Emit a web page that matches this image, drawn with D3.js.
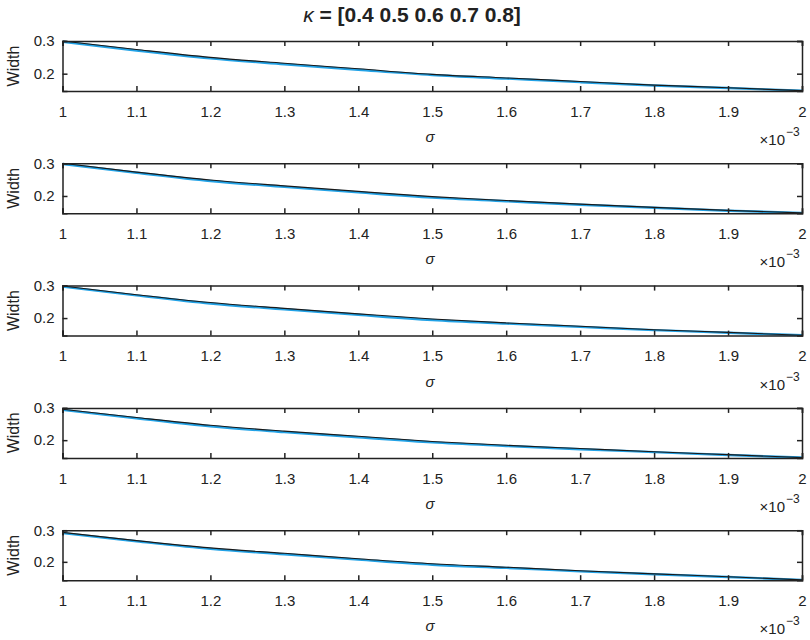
<!DOCTYPE html>
<html>
<head>
<meta charset="utf-8">
<script src="https://cdn.jsdelivr.net/npm/d3@7"></script>
<style>
  html, body { margin: 0; padding: 0; background: #fff; }
  svg text { font-family: "Liberation Sans", Arial, Helvetica, sans-serif; fill: #222; }
</style>
</head>
<body>
<svg id="chart" width="810" height="640"></svg>
<script>
// sigma values (x 10^-3) at which widths are sampled
const sigma = [1.0, 1.1, 1.2, 1.3, 1.4, 1.5, 1.6, 1.7, 1.8, 1.9, 2.0];
const sigmaTicks = [1, 1.1, 1.2, 1.3, 1.4, 1.5, 1.6, 1.7, 1.8, 1.9, 2];
const widthTicks = [0.2, 0.3];
const kappa = [0.4, 0.5, 0.6, 0.7, 0.8];

// width curves, one black and one blue per kappa
const blackK04 = [0.300, 0.274, 0.250, 0.232, 0.215, 0.198, 0.187, 0.176, 0.165, 0.157, 0.148];
const blueK04  = [0.298, 0.271, 0.247, 0.229, 0.212, 0.196, 0.185, 0.174, 0.164, 0.156, 0.148];
const blackK05 = [0.300, 0.273, 0.249, 0.231, 0.214, 0.198, 0.186, 0.175, 0.165, 0.156, 0.148];
const blueK05  = [0.298, 0.271, 0.246, 0.228, 0.211, 0.195, 0.184, 0.173, 0.164, 0.155, 0.148];
const blackK06 = [0.299, 0.272, 0.248, 0.230, 0.213, 0.197, 0.185, 0.175, 0.164, 0.156, 0.147];
const blueK06  = [0.297, 0.270, 0.245, 0.227, 0.210, 0.194, 0.183, 0.173, 0.163, 0.155, 0.147];
const blackK07 = [0.296, 0.270, 0.246, 0.228, 0.212, 0.196, 0.184, 0.174, 0.164, 0.155, 0.146];
const blueK07  = [0.294, 0.268, 0.243, 0.225, 0.209, 0.193, 0.182, 0.172, 0.163, 0.154, 0.146];
const blackK08 = [0.293, 0.267, 0.244, 0.227, 0.210, 0.194, 0.183, 0.172, 0.162, 0.153, 0.143];
const blueK08  = [0.291, 0.265, 0.241, 0.224, 0.207, 0.191, 0.181, 0.170, 0.161, 0.152, 0.143];
const widthMin = [0.147, 0.147, 0.146, 0.145, 0.142];

const panels = [
  { black: blackK04, blue: blueK04 },
  { black: blackK05, blue: blueK05 },
  { black: blackK06, blue: blueK06 },
  { black: blackK07, blue: blueK07 },
  { black: blackK08, blue: blueK08 }
];

const svg = d3.select("#chart");
const left = 62.5, right = 802;
const firstTop = 41, step = 122.3, panelH = 50;

const x = d3.scaleLinear().domain([1, 2]).range([left, right]);

// title
const title = svg.append("text")
  .attr("x", 412).attr("y", 22)
  .attr("text-anchor", "middle")
  .style("font-size", "21px").style("font-weight", "bold");
title.append("tspan").style("font-style", "italic").style("font-weight", "normal").text("κ");
title.append("tspan").text(" = [" + kappa.join(" ") + "]");

panels.forEach((p, i) => {
  const top = firstTop + i * step;
  const y = d3.scaleLinear().domain([widthMin[i], 0.3]).range([top + panelH, top]);
  const g = svg.append("g");

  const line = d3.line()
    .x((d, j) => x(sigma[j]))
    .y(d => y(d))
    .curve(d3.curveMonotoneX);

  const clipId = "clip" + i;
  g.append("clipPath").attr("id", clipId)
    .append("rect").attr("x", left).attr("y", top - 1).attr("width", right - left).attr("height", panelH + 2);

  const plot = g.append("g").attr("clip-path", `url(#${clipId})`);
  plot.append("path").datum(p.blue)
    .attr("d", line).attr("fill", "none")
    .attr("stroke", "#22a2e6").attr("stroke-width", 2.4);
  plot.append("path").datum(p.black)
    .attr("d", line).attr("fill", "none")
    .attr("stroke", "#1a1a1a").attr("stroke-width", 1.1);

  // axes (inward ticks, MATLAB style box)
  const xb = d3.axisBottom(x).tickValues(sigmaTicks).tickSize(-5).tickPadding(15)
    .tickFormat(d3.format("~g"));
  const xt = d3.axisTop(x).tickValues(sigmaTicks).tickSize(-5).tickFormat("");
  const yl = d3.axisLeft(y).tickValues(widthTicks).tickSize(-5).tickPadding(8)
    .tickFormat(d3.format(".1f"));
  const yr = d3.axisRight(y).tickValues(widthTicks).tickSize(-5).tickFormat("");

  const ax = [
    g.append("g").attr("transform", `translate(0,${top + panelH})`).call(xb),
    g.append("g").attr("transform", `translate(0,${top})`).call(xt),
    g.append("g").attr("transform", `translate(${left},0)`).call(yl),
    g.append("g").attr("transform", `translate(${right},0)`).call(yr)
  ];
  ax.forEach(a => {
    a.select(".domain").attr("stroke", "#222").attr("stroke-width", 1.5);
    a.selectAll(".tick line").attr("stroke", "#222").attr("stroke-width", 1.5);
    a.selectAll(".tick text").style("font-size", "15px").attr("fill", "#222")
      .style("font-family", '"Liberation Sans", Arial, sans-serif');
  });

  // axis labels
  svg.append("text")
    .attr("transform", `translate(19,${top + panelH / 2}) rotate(-90)`)
    .attr("text-anchor", "middle")
    .style("font-size", "16px")
    .text("Width");
  svg.append("text")
    .attr("x", 430).attr("y", top + 101)
    .attr("text-anchor", "middle")
    .style("font-size", "15px").style("font-style", "italic")
    .text("σ");

  // exponent of the x axis
  svg.append("text")
    .attr("x", 785).attr("y", top + 104)
    .attr("text-anchor", "end")
    .style("font-size", "15px")
    .text("×10");
  svg.append("text")
    .attr("x", 786).attr("y", top + 95)
    .style("font-size", "12px")
    .text("−3");
});
</script>
</body>
</html>
